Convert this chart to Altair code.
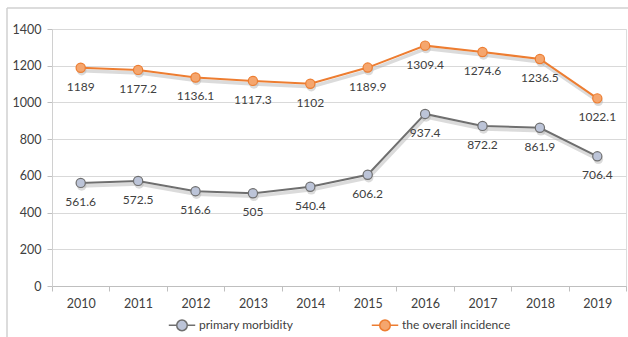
import altair as alt
import pandas as pd

years = ["2010", "2011", "2012", "2013", "2014", "2015", "2016", "2017", "2018", "2019"]
primary = [561.6, 572.5, 516.6, 505, 540.4, 606.2, 937.4, 872.2, 861.9, 706.4]
overall = [1189, 1177.2, 1136.1, 1117.3, 1102, 1189.9, 1309.4, 1274.6, 1236.5, 1022.1]
series_names = ["primary morbidity", "the overall incidence"]
y_ticks = [0, 200, 400, 600, 800, 1000, 1200, 1400]

rows = []
for name, vals in zip(series_names, [primary, overall]):
    for yr, v in zip(years, vals):
        rows.append({"year": yr, "value": v, "series": name, "label": f"{v:g}"})
df = pd.DataFrame(rows)

FONT = "Lato"
TXT = "#404040"

stroke_scale = alt.Scale(domain=series_names, range=["#6f6f6f", "#ED7D31"])
fill_scale = alt.Scale(domain=series_names, range=["#BCC4D8", "#F5A66E"])

x = alt.X("year:N", sort=years, title=None,
          axis=alt.Axis(labelAngle=0, tickBand="extent", tickSize=5, tickColor="#bfbfbf",
                        domainColor="#bfbfbf", labelPadding=6, labelFontSize=12.5,
                        labelColor=TXT, labelFont=FONT, grid=False),
          scale=alt.Scale(paddingInner=0, paddingOuter=0))
y = alt.Y("value:Q", title=None,
          scale=alt.Scale(domain=[0, 1400], nice=False),
          axis=alt.Axis(values=y_ticks, format="d", grid=True, gridColor="#d9d9d9", tickSize=5,
                        tickColor="#bfbfbf", domainColor="#d0d0d0", labelPadding=6,
                        labelFontSize=12.5, labelColor=TXT, labelFont=FONT))

base = alt.Chart(df)

shadow_line = base.mark_line(strokeWidth=3.5, color="#b0b0b0", opacity=0.45, yOffset=3, xOffset=1).encode(
    x=x, y=y, detail="series:N")
shadow_pt = base.mark_circle(size=90, color="#b0b0b0", opacity=0.45, yOffset=3, xOffset=1).encode(
    x=x, y=y)

legend_path = "M-1,0H-0.4M0.4,0H1M-0.4,0A0.4,0.4 0 1,0 0.4,0A0.4,0.4 0 1,0 -0.4,0"
leg = alt.Legend(title=None, orient="none", legendX=116, legendY=282, direction="horizontal",
                 symbolType=legend_path, symbolSize=700, symbolStrokeWidth=1.5, labelFont=FONT,
                 labelFontSize=12, labelColor=TXT, columnPadding=74, labelOffset=3)

line = base.mark_line(strokeWidth=2).encode(
    x=x, y=y, stroke=alt.Stroke("series:N", scale=stroke_scale, legend=leg))

points = base.mark_point(filled=True, size=85, strokeWidth=1.2, opacity=1).encode(
    x=x, y=y,
    fill=alt.Fill("series:N", scale=fill_scale, legend=leg),
    stroke=alt.Stroke("series:N", scale=stroke_scale, legend=leg))

labels = base.mark_text(dy=19, font=FONT, fontSize=12, color=TXT, baseline="middle").encode(
    x=x, y=y, text="label:N")

frame_data = alt.Data(values=[{"a": 1}])
frame_left = alt.Chart(frame_data).mark_rule(color="#d0d0d0", strokeWidth=1.5).encode(
    x=alt.value(-45), y=alt.value(-21), y2=alt.value(310))
frame_top = alt.Chart(frame_data).mark_rule(color="#d0d0d0", strokeWidth=1.5).encode(
    x=alt.value(-45), x2=alt.value(580), y=alt.value(-21))

chart = alt.layer(frame_left, frame_top, shadow_line, shadow_pt, line, points, labels).properties(
    width=574, height=257,
    autosize=alt.AutoSizeParams(type="none"),
    padding={"left": 52, "top": 29, "right": 2, "bottom": 51},
).configure_view(stroke=None).configure(background="white")

chart.save("out.html", embed_options={"renderer": "svg", "actions": False})
